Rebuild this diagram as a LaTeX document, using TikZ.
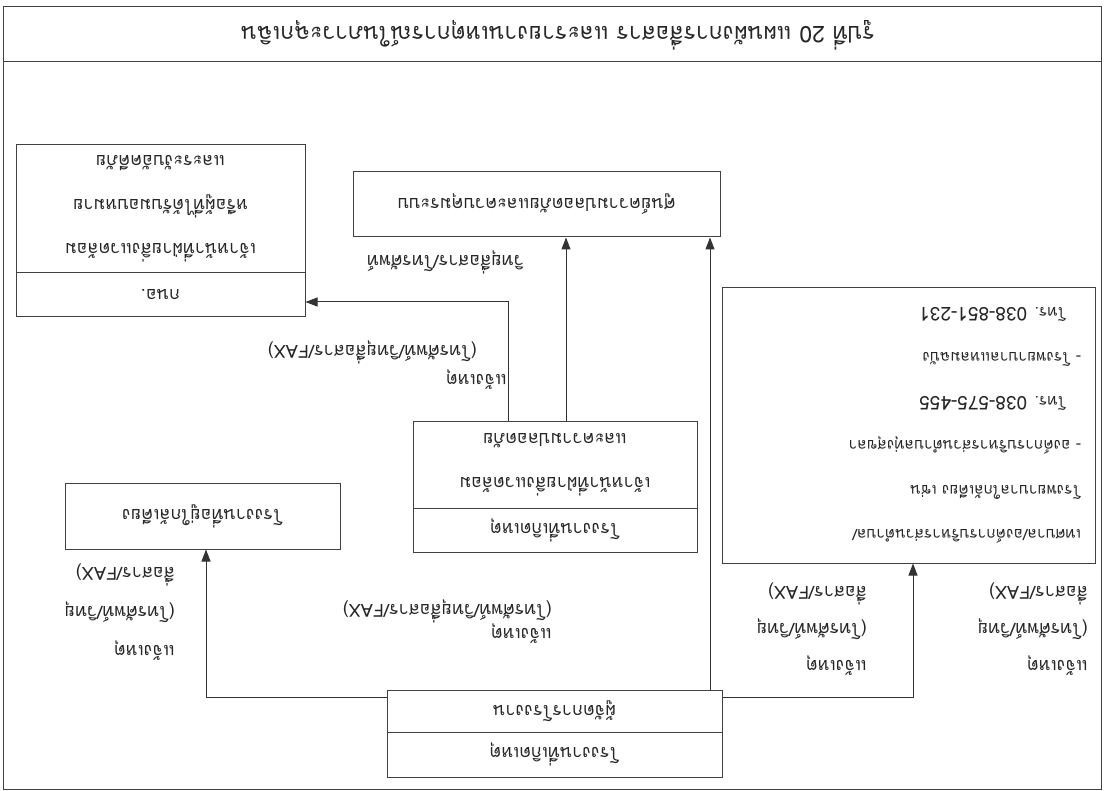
\documentclass[tikz,border=0pt]{standalone}
\usepackage{fontspec}
\setmainfont[Script=Thai]{Loma}
\usetikzlibrary{arrows.meta}
\newcommand{\phonenum}[1]{{\fontsize{19}{44.4}\selectfont #1}}
\begin{document}
\begin{tikzpicture}[x=1pt,y=-1pt,
  frame/.style={draw=black!75, line width=1pt},
  box/.style={draw=black!75, line width=1pt, inner sep=0pt, font=\fontsize{18}{44}\selectfont, text=black!85, align=center},
  lbl/.style={inner sep=0pt, font=\fontsize{18}{37}\selectfont, text=black!85, align=left, anchor=west},
  conn/.style={draw=black!80, line width=1pt, -{Triangle[length=12pt,width=9pt]}},
]
\useasboundingbox (0,0) rectangle (1106,791);
\fill[white] (0,0) rectangle (1106,791);
\begin{scope}[rotate around={180:(553,395.5)}, transform shape]
 % outer frame and caption band
 \draw[frame] (5,2) rectangle (1103,784);
 \draw[frame] (5,729) -- (1103,729);
 \node[inner sep=0pt, font=\fontsize{23}{23}\selectfont, text=black!85] (title) at (548,756) {รูปที่ 20 แผนผังการสื่อสาร และรายงานเหตุการณ์ในภาวะฉุกเฉิน};
 % boxes
 \node[box, minimum width=335, minimum height=45] (bh) at (551.5,36.5) {โรงงานที่เกิดเหตุ};
 \node[box, minimum width=335, minimum height=42] (bb) at (551.5,80) {ผู้จัดการโรงงาน};
 \node[box, minimum width=284, minimum height=44] (mh) at (551,261) {โรงงานที่เกิดเหตุ};
 \node[box, minimum width=284, minimum height=86] (mb) at (551,326) {เจ้าหน้าที่ฝ่ายสิ่งแวดล้อม\\และความปลอดภัย};
 \node[box, minimum width=367, minimum height=65] (tc) at (569.5,586.5) {ศูนย์ความปลอดภัยและควบคุมระบบ};
 \node[box, minimum width=289, minimum height=44] (tlh) at (945.5,496) {กนอ.};
 \node[box, minimum width=289, minimum height=128] (tlb) at (945.5,582) {เจ้าหน้าที่ฝ่ายสิ่งแวดล้อม\\หรือผู้ที่ได้รับมอบหมาย\\และระงับอัคคีภัย};
 \node[box, minimum width=275, minimum height=66] (lb) at (903.5,275) {โรงงานที่อยู่ใกล้เคียง};
 \node[box, minimum width=373, minimum height=275, text width=345, align=left, font=\fontsize{15.5}{44.4}\selectfont] (rb) at (197.5,365.5) {เทศบาล/องค์การบริหารส่วนตำบล/\\โรงพยาบาลใกล้เคียง เช่น\\- องค์การบริหารส่วนตำบลทุ่งสุขลา\\\hspace*{15pt}โทร. \phonenum{038-575-455}\\- โรงพยาบาลแหลมฉบัง\\\hspace*{15pt}โทร. \phonenum{038-851-231}};
 % helper coordinates
 \coordinate (c1) at (396,0);
 \coordinate (c2) at (0,94);
 \coordinate (c3) at (193,0);
 \coordinate (c4) at (900,0);
 \coordinate (c5) at (540,0);
 \coordinate (c6) at (598,0);
 \coordinate (c7) at (0,489);
 % connectors
 \draw[conn] (bb.south -| c1) -- (tc.north -| c1);
 \draw[conn] (bb.west |- c2) -| (rb.north -| c3);
 \draw[conn] (bb.east |- c2) -| (lb.north -| c4);
 \draw[conn] (mb.south -| c5) -- (tc.north -| c5);
 \draw[conn] (mb.south -| c6) |- (tlh.west |- c7);
 % labels
 \node[lbl] (l1) at (18,161.5) {แจ้งเหตุ\\(โทรศัพท์/วิทยุ\\สื่อสาร/FAX)};
 \node[lbl] (l2) at (239,161.5) {แจ้งเหตุ\\(โทรศัพท์/วิทยุ\\สื่อสาร/FAX)};
 \node[lbl, font=\fontsize{18}{23}\selectfont] (l3) at (554,169.5) {แจ้งเหตุ\\(โทรศัพท์/วิทยุสื่อสาร/FAX)};
 \node[lbl, font=\fontsize{18}{39}\selectfont] (l4) at (931,179) {แจ้งเหตุ\\(โทรศัพท์/วิทยุ\\สื่อสาร/FAX)};
 \node[lbl, font=\fontsize{18}{29}\selectfont] (l5) at (599,426) {แจ้งเหตุ\\\hspace*{30pt}(โทรศัพท์/วิทยุสื่อสาร/FAX)};
 \node[lbl] (l6) at (582,529) {วิทยุสื่อสาร/โทรศัพท์};
\end{scope}
\end{tikzpicture}
\end{document}
